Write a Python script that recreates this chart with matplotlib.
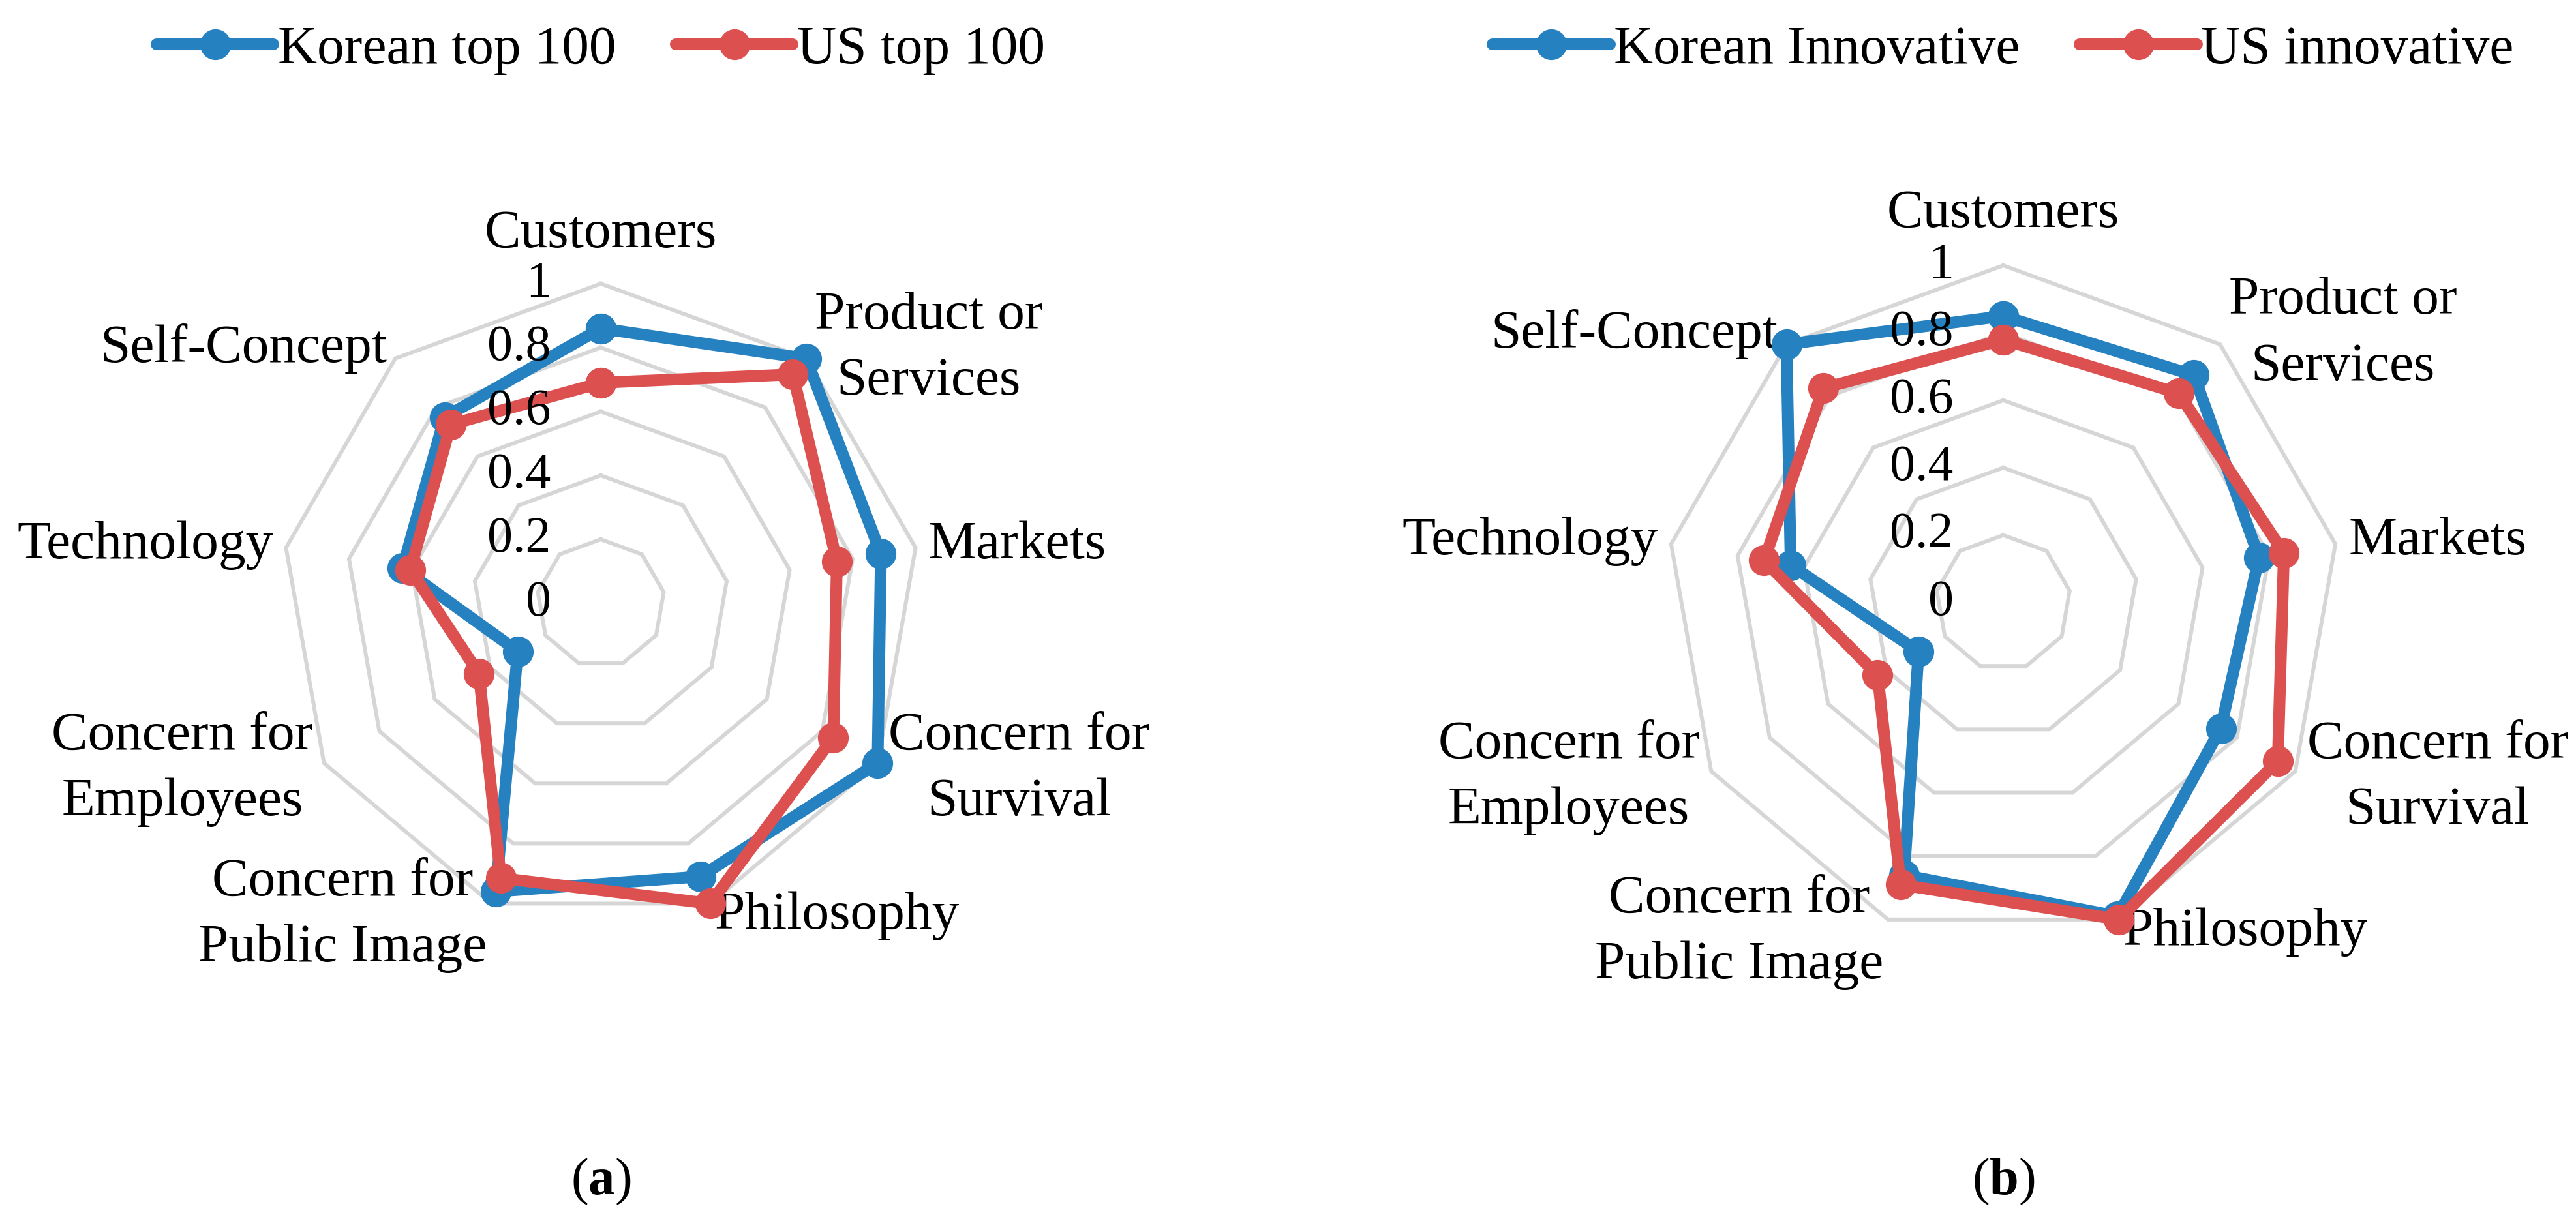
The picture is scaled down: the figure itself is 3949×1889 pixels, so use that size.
import numpy as np
import matplotlib
matplotlib.use('Agg')
import matplotlib.pyplot as plt

plt.rcParams['font.family'] = ['Liberation Serif', 'DejaVu Serif']
plt.rcParams['mathtext.fontset'] = 'custom'
plt.rcParams['mathtext.rm'] = 'Liberation Serif'
plt.rcParams['mathtext.bf'] = 'Liberation Serif:bold'

# Categories (clockwise from the top)
categories = ['Customers', 'Product or\nServices', 'Markets', 'Concern for\nSurvival',
              'Philosophy', 'Concern for\nPublic Image', 'Concern for\nEmployees',
              'Technology', 'Self-Concept']

# (a) top 100 companies
korean_top100 = [0.86, 1.0, 0.89, 1.0, 0.91, 0.96, 0.30, 0.63, 0.76]
us_top100 = [0.69, 0.935, 0.75, 0.84, 1.0, 0.915, 0.44, 0.605, 0.73]

# (b) innovative companies
korean_innov = [0.85, 0.88, 0.77, 0.745, 0.99, 0.86, 0.29, 0.64, 1.0]
us_innov = [0.78, 0.81, 0.845, 0.94, 1.0, 0.89, 0.43, 0.72, 0.83]

levels = [0, 0.2, 0.4, 0.6, 0.8, 1.0]
level_labels = ['0', '0.2', '0.4', '0.6', '0.8', '1']

BLUE = '#2681C1'
RED = '#DD5050'
GRID = '#D6D6D6'
W, H = 3949, 1889


def radar_axes(fig, cx, cy, radius):
    # polar axes placed by pixel centre / radius
    rect = [(cx - radius) / W, (H - cy - radius) / H, 2 * radius / W, 2 * radius / H]
    ax = fig.add_axes(rect, projection='polar')
    ax.set_theta_offset(np.pi / 2)
    ax.set_theta_direction(-1)
    ax.set_ylim(0, 1)
    ax.grid(False)
    ax.set_xticks([])
    ax.set_yticks([])
    ax.spines['polar'].set_visible(False)
    ax.patch.set_alpha(0)
    return ax


def draw_radar(ax, series, names, caption, legend_x):
    n = len(categories)
    angles = np.linspace(0, 2 * np.pi, n, endpoint=False)
    closed = np.append(angles, angles[0])

    # polygon grid
    for lv in levels[1:]:
        ax.plot(closed, [lv] * (n + 1), color=GRID, lw=4.3, zorder=1,
                solid_joinstyle='miter', clip_on=False)

    # value labels on the vertical axis
    for lv, lab in zip(levels, level_labels):
        ax.annotate(lab, xy=(0, lv), xytext=(-55, 0), textcoords='offset points',
                    ha='right', va='center', fontsize=56, zorder=5)

    # category labels
    for ang, cat in zip(angles, categories):
        c = np.sin(ang)
        if abs(c) < 1e-6:
            ax.text(ang, 1.115, cat, ha='center', va='baseline', fontsize=60)
        else:
            ax.text(ang, 1.04, cat, ha='left' if c > 0 else 'right', va='center',
                    multialignment='center', fontsize=60, linespacing=1.45)

    handles = []
    for vals, name, col in zip(series, names, [BLUE, RED]):
        v = np.append(vals, vals[0])
        h, = ax.plot(closed, v, color=col, lw=13, marker='o', markersize=33,
                     solid_joinstyle='round', solid_capstyle='round',
                     label=name, zorder=3, clip_on=False)
        handles.append(h)

    fig = ax.figure
    fig.legend(handles=handles, loc='center', bbox_to_anchor=(legend_x / W, 1 - 77 / H),
               ncol=2, frameon=False, fontsize=60, handlelength=2.15,
               handletextpad=0.08, columnspacing=1.1)
    fig.text(legend_x / W, 1 - 1812 / H, caption, ha='center', va='center', fontsize=58)


if __name__ == "__main__":
    fig = plt.figure(figsize=(W / 100, H / 100), dpi=100)

    ax_a = radar_axes(fig, 921, 925, 490)
    draw_radar(ax_a, [korean_top100, us_top100], ['Korean top 100', 'US top 100'],
               r'($\mathbf{a}$)', 921)

    ax_b = radar_axes(fig, 3071, 924, 517)
    draw_radar(ax_b, [korean_innov, us_innov], ['Korean Innovative', 'US innovative'],
               r'($\mathbf{b}$)', 3071)

    fig.savefig('out.png', dpi=100, facecolor='white')
